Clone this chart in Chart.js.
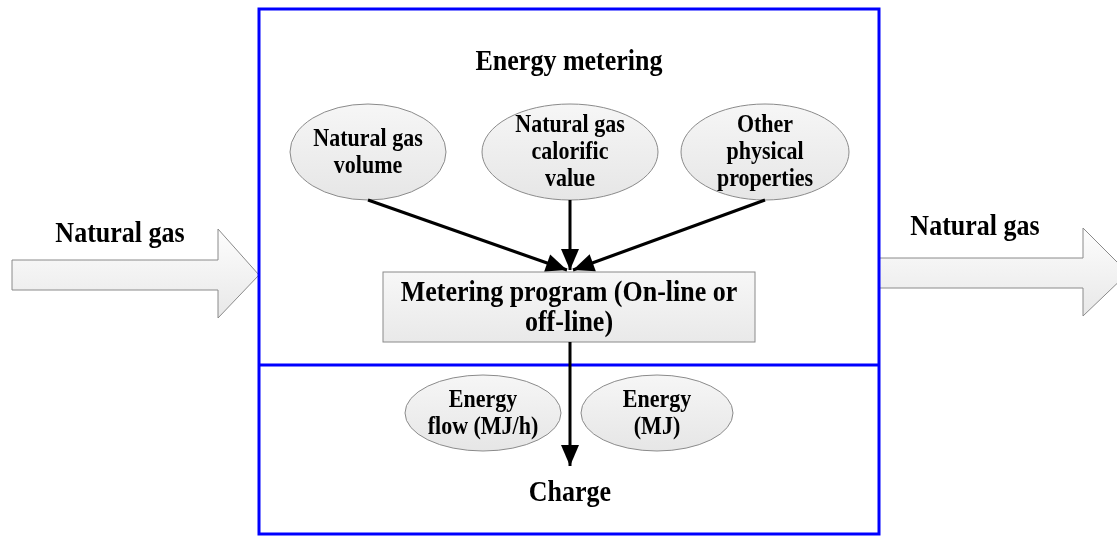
<!DOCTYPE html>
<html lang="en">
<head>
    <meta charset="UTF-8">
    <title>Energy metering</title>
    <style>
        body {
            margin: 0;
            background: white;
        }
    </style>
    <script src="https://cdn.jsdelivr.net/npm/chart.js"></script>
</head>
<body>
    <canvas id="myChart" width="1117" height="536"></canvas>
    <script>
        // Diagram content
        const ellipseLabels = [
            ['Natural gas', 'volume'],
            ['Natural gas', 'calorific', 'value'],
            ['Other', 'physical', 'properties'],
            ['Energy', 'flow (MJ/h)'],
            ['Energy', '(MJ)']
        ];
        const programLabel = ['Metering program (On-line or', 'off-line)'];
        const titleTop = 'Energy metering';
        const titleBottom = 'Charge';
        const flowLabel = 'Natural gas';

        // Layout (diagram units = pixels of the picture)
        const ellipseCx = [368, 570, 765, 483, 657];
        const ellipseCy = [152, 152, 152, 413, 413];
        const ellipseRx = [78, 88, 84, 78, 76];
        const ellipseRy = [48, 48, 48, 38, 38];
        const programBox = { x0: 383, y0: 272, x1: 755, y1: 342 };
        const outerBox = { x0: 259, y0: 9, x1: 879, y1: 534, split: 365 };

        // Connectors: [x0, y0, x1, y1]
        const connectors = [
            [368, 200, 567, 270],
            [570, 200, 570, 270],
            [765, 200, 573, 270],
            [570, 342, 570, 466]
        ];

        // Block arrows: [xStart, xHeadStart, xTip, bodyTop, bodyBottom, headTop, headBottom]
        const blockArrows = [
            [12, 218, 259, 260, 290, 229, 318],
            [879, 1083, 1128, 258, 288, 228, 316]
        ];
        const flowLabelPos = [[120, 234], [975, 227]];

        const serif = '"Liberation Serif", "Times New Roman", serif';

        // text slightly stretched vertically, like the original figure
        function drawText(ctx, t, x, y) {
            ctx.save();
            ctx.translate(x, y);
            ctx.scale(1, 1.12);
            ctx.fillText(t, 0, 0);
            ctx.restore();
        }

        const diagram = {
            id: 'diagram',
            beforeDatasetsDraw(chart) {
                const ctx = chart.ctx;
                const sx = v => chart.scales.x.getPixelForValue(v);
                const sy = v => chart.scales.y.getPixelForValue(v);
                ctx.save();

                // block arrows
                blockArrows.forEach(a => {
                    const g = ctx.createLinearGradient(0, sy(a[5]), 0, sy(a[6]));
                    g.addColorStop(0, '#fdfdfd');
                    g.addColorStop(1, '#e8e8e8');
                    ctx.beginPath();
                    ctx.moveTo(sx(a[0]), sy(a[3]));
                    ctx.lineTo(sx(a[1]), sy(a[3]));
                    ctx.lineTo(sx(a[1]), sy(a[5]));
                    ctx.lineTo(sx(a[2]), sy((a[3] + a[4]) / 2));
                    ctx.lineTo(sx(a[1]), sy(a[6]));
                    ctx.lineTo(sx(a[1]), sy(a[4]));
                    ctx.lineTo(sx(a[0]), sy(a[4]));
                    ctx.closePath();
                    ctx.fillStyle = g;
                    ctx.fill();
                    ctx.strokeStyle = '#8a8a8a';
                    ctx.lineWidth = 1;
                    ctx.stroke();
                });

                // outer blue frame
                ctx.strokeStyle = '#0000ff';
                ctx.lineWidth = 3;
                ctx.strokeRect(sx(outerBox.x0), sy(outerBox.y0),
                    sx(outerBox.x1) - sx(outerBox.x0), sy(outerBox.y1) - sy(outerBox.y0));
                ctx.beginPath();
                ctx.moveTo(sx(outerBox.x0), sy(outerBox.split));
                ctx.lineTo(sx(outerBox.x1), sy(outerBox.split));
                ctx.stroke();

                // ellipses
                ellipseCx.forEach((cx, i) => {
                    const g = ctx.createLinearGradient(0, sy(ellipseCy[i] - ellipseRy[i]), 0, sy(ellipseCy[i] + ellipseRy[i]));
                    g.addColorStop(0, '#f6f6f6');
                    g.addColorStop(1, '#e6e6e6');
                    ctx.beginPath();
                    ctx.ellipse(sx(cx), sy(ellipseCy[i]), ellipseRx[i], ellipseRy[i], 0, 0, Math.PI * 2);
                    ctx.fillStyle = g;
                    ctx.fill();
                    ctx.strokeStyle = '#8a8a8a';
                    ctx.lineWidth = 1;
                    ctx.stroke();
                });

                // program box
                const pb = programBox;
                const pg = ctx.createLinearGradient(0, sy(pb.y0), 0, sy(pb.y1));
                pg.addColorStop(0, '#f7f7f7');
                pg.addColorStop(1, '#e9e9e9');
                ctx.fillStyle = pg;
                ctx.fillRect(sx(pb.x0), sy(pb.y0), sx(pb.x1) - sx(pb.x0), sy(pb.y1) - sy(pb.y0));
                ctx.strokeStyle = '#8a8a8a';
                ctx.lineWidth = 1;
                ctx.strokeRect(sx(pb.x0), sy(pb.y0), sx(pb.x1) - sx(pb.x0), sy(pb.y1) - sy(pb.y0));

                ctx.restore();
            },
            afterDatasetsDraw(chart) {
                const ctx = chart.ctx;
                const sx = v => chart.scales.x.getPixelForValue(v);
                const sy = v => chart.scales.y.getPixelForValue(v);
                ctx.save();

                // arrowheads at connector ends
                ctx.fillStyle = '#000';
                connectors.forEach(c => {
                    const x1 = sx(c[2]), y1 = sy(c[3]);
                    const ang = Math.atan2(y1 - sy(c[1]), x1 - sx(c[0]));
                    const len = 21, half = 9;
                    ctx.beginPath();
                    ctx.moveTo(x1, y1);
                    ctx.lineTo(x1 - len * Math.cos(ang) + half * Math.sin(ang), y1 - len * Math.sin(ang) - half * Math.cos(ang));
                    ctx.lineTo(x1 - len * Math.cos(ang) - half * Math.sin(ang), y1 - len * Math.sin(ang) + half * Math.cos(ang));
                    ctx.closePath();
                    ctx.fill();
                });

                // texts
                ctx.fillStyle = '#000';
                ctx.textAlign = 'center';
                ctx.textBaseline = 'middle';

                ctx.font = 'bold 26px ' + serif;
                drawText(ctx, titleTop, sx(569), sy(62));
                drawText(ctx, titleBottom, sx(570), sy(493));
                flowLabelPos.forEach(p => drawText(ctx, flowLabel, sx(p[0]), sy(p[1])));

                programLabel.forEach((t, k) => drawText(ctx, t, sx(569), sy(293 + k * 30)));

                ctx.font = 'bold 22px ' + serif;
                ellipseLabels.forEach((lines, i) => {
                    const step = 27;
                    const start = ellipseCy[i] - (lines.length - 1) * step / 2 + 1;
                    lines.forEach((t, k) => drawText(ctx, t, sx(ellipseCx[i]), sy(start + k * step)));
                });

                ctx.restore();
            }
        };

        const ctx = document.getElementById('myChart').getContext('2d');
        const myChart = new Chart(ctx, {
            type: 'scatter',
            data: {
                datasets: connectors.map(c => ({
                    data: [{ x: c[0], y: c[1] }, { x: c[2], y: c[3] }],
                    showLine: true,
                    borderColor: '#000',
                    borderWidth: 3,
                    pointRadius: 0
                }))
            },
            options: {
                responsive: false,
                animation: false,
                layout: { padding: 0 },
                plugins: {
                    legend: { display: false },
                    tooltip: { enabled: false }
                },
                scales: {
                    x: { type: 'linear', min: 0, max: 1117, display: false },
                    y: { type: 'linear', min: 0, max: 536, reverse: true, display: false }
                }
            },
            plugins: [diagram]
        });
    </script>
</body>
</html>
